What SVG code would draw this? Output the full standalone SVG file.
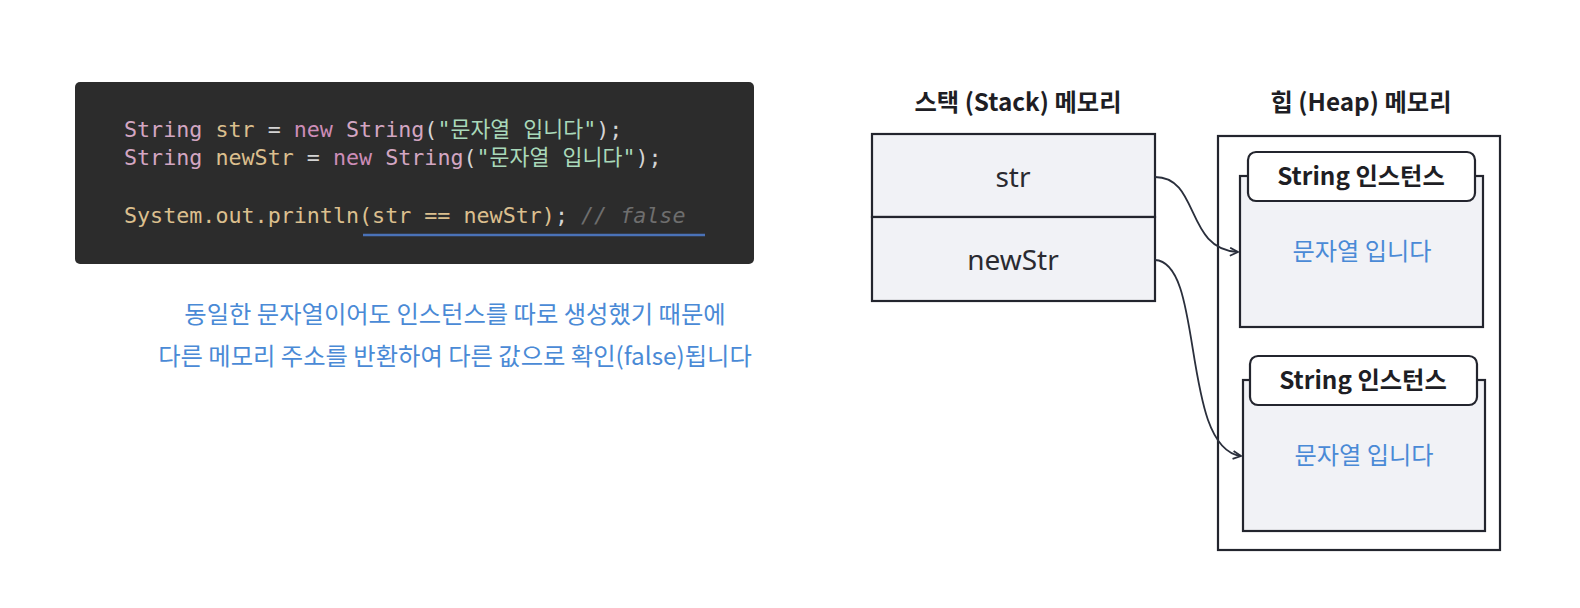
<svg xmlns="http://www.w3.org/2000/svg" width="1580" height="608" viewBox="0 0 1580 608">
<style>
.code{font-family:"DejaVu Sans Mono","Noto Sans CJK KR",monospace;font-size:21.7px;white-space:pre}
.ty{fill:#d3a6c2}.va{fill:#dbbf8e}.kw{fill:#cd8db8}.st{fill:#a9d9ba}.op{fill:#d4d4d4}.cm{fill:#6e6e6e;font-style:italic}
.cap{font-family:"Noto Sans CJK KR","Noto Sans",sans-serif;font-size:24.3px;fill:#4a8ad6;text-anchor:middle}
.title{font-family:"Noto Sans CJK KR","Noto Sans",sans-serif;font-size:24.3px;font-weight:700;fill:#1e1e24;text-anchor:middle}
.cell{font-family:"Noto Sans","Noto Sans CJK KR",sans-serif;font-size:28px;fill:#2a2a30;text-anchor:middle}
.val{font-family:"Noto Sans CJK KR","Noto Sans",sans-serif;font-size:24.2px;fill:#4a8ad6;text-anchor:middle}
.box{fill:#f1f2f6;stroke:#23252e;stroke-width:2.2}
.hdr{fill:#ffffff;stroke:#23252e;stroke-width:2.2}
.conn{fill:none;stroke:#2a2f3c;stroke-width:1.8}
</style>
<defs>
<marker id="arr" viewBox="0 0 10 10" refX="9" refY="5" markerWidth="10" markerHeight="10" markerUnits="userSpaceOnUse" orient="auto">
<path d="M1,1 L9,5 L1,9" fill="none" stroke="#2a2f3c" stroke-width="1.8"/>
</marker>
</defs>
<rect width="1580" height="608" fill="#ffffff"/>
<g id="code">
<rect x="75" y="82" width="679" height="182" rx="5" fill="#2c2c2c"/>
<text class="code" x="124" y="137"><tspan class="ty">String</tspan><tspan class="va"> str</tspan><tspan class="op"> = </tspan><tspan class="kw">new</tspan><tspan class="ty"> String</tspan><tspan class="op">(</tspan><tspan class="st">"문자열 입니다"</tspan><tspan class="op">);</tspan></text>
<text class="code" x="124" y="165"><tspan class="ty">String</tspan><tspan class="va"> newStr</tspan><tspan class="op"> = </tspan><tspan class="kw">new</tspan><tspan class="ty"> String</tspan><tspan class="op">(</tspan><tspan class="st">"문자열 입니다"</tspan><tspan class="op">);</tspan></text>
<text class="code" x="124" y="223"><tspan class="va">System.out.println(str == newStr)</tspan><tspan class="op">; </tspan><tspan class="cm">// false</tspan></text>
<line x1="363" y1="235" x2="705" y2="235" stroke="#4a72b8" stroke-width="2.5"/>
</g>
<g id="caption">
<text class="cap" x="455" y="323">동일한 문자열이어도 인스턴스를 따로 생성했기 때문에</text>
<text class="cap" x="455" y="365">다른 메모리 주소를 반환하여 다른 값으로 확인(false)됩니다</text>
</g>
<g id="stack">
<text class="title" x="1018" y="111">스택 (Stack) 메모리</text>
<rect class="box" x="872" y="134" width="283" height="83"/>
<rect class="box" x="872" y="217" width="283" height="84"/>
<text class="cell" x="1013" y="187">str</text>
<text class="cell" x="1013" y="270">newStr</text>
</g>
<g id="heap">
<text class="title" x="1361" y="111">힙 (Heap) 메모리</text>
<rect x="1218" y="136" width="282" height="414" fill="#ffffff" stroke="#23252e" stroke-width="2.2"/>
</g>
<g id="instance1">
<rect class="box" x="1240" y="176" width="243" height="151"/>
<rect class="hdr" x="1248" y="152" width="227" height="49" rx="8"/>
<text class="title" x="1361" y="185">String 인스턴스</text>
<text class="val" x="1362" y="260">문자열 입니다</text>
</g>
<g id="instance2">
<rect class="box" x="1243" y="380" width="242" height="151"/>
<rect class="hdr" x="1250" y="356" width="227" height="49" rx="8"/>
<text class="title" x="1363" y="389">String 인스턴스</text>
<text class="val" x="1364" y="464">문자열 입니다</text>
</g>
<g id="connectors">
<path class="conn" d="M1155,177 C1200,177 1185,250 1238,252" marker-end="url(#arr)"/>
<path class="conn" d="M1155,260 C1205,262 1180,448 1241,456" marker-end="url(#arr)"/>
</g>
</svg>
